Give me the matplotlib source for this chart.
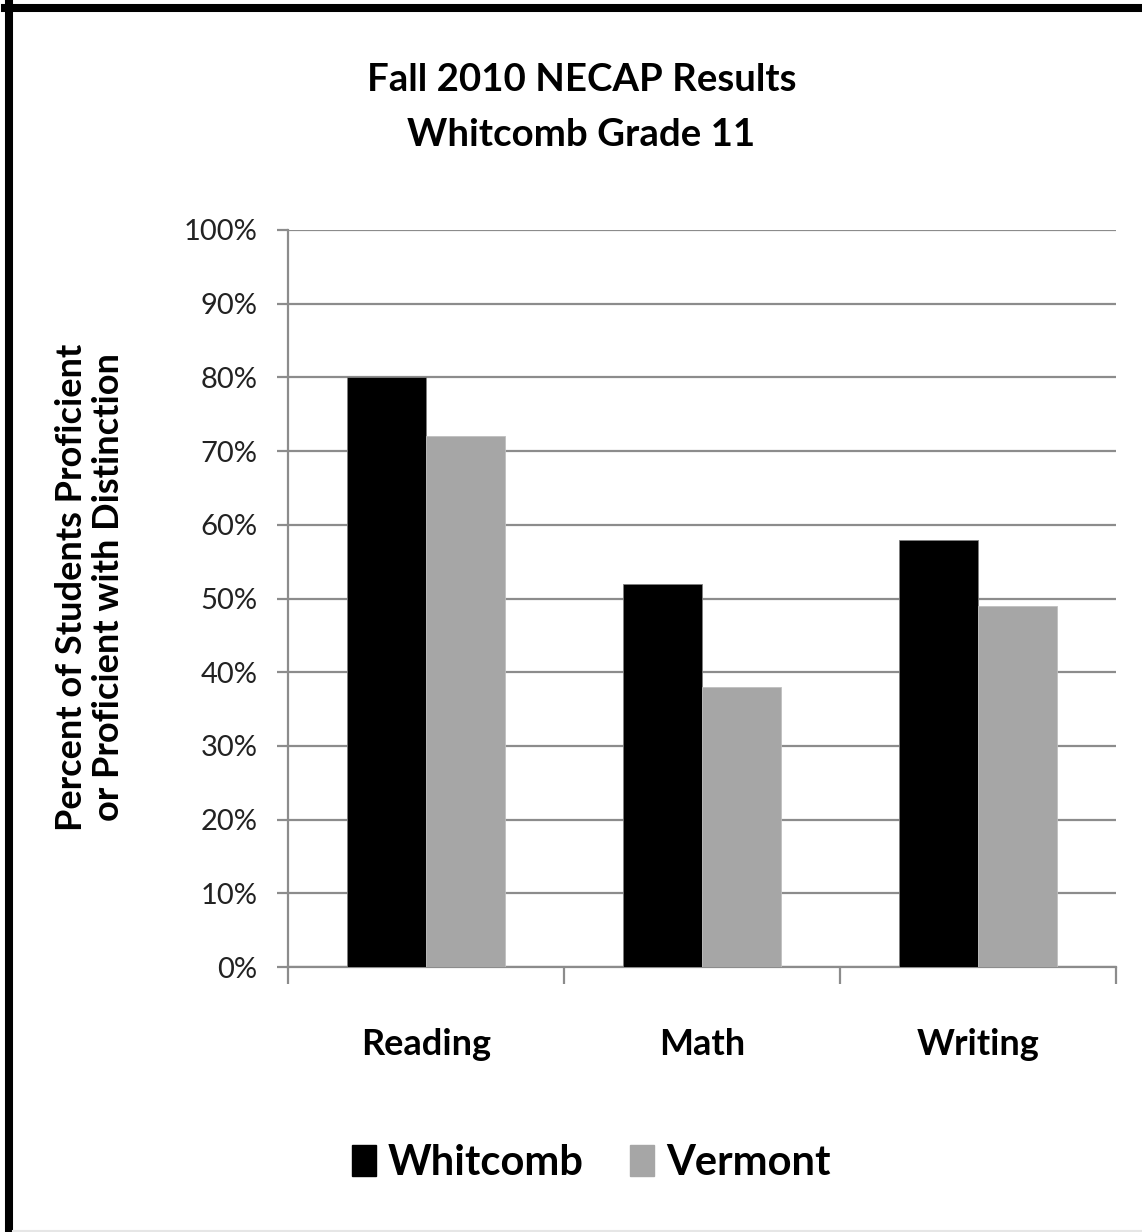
import matplotlib
matplotlib.use('Agg')
import matplotlib.pyplot as plt
from matplotlib.lines import Line2D
import numpy as np

plt.rcParams['font.family'] = ['Lato', 'DejaVu Sans']

categories = ['Reading', 'Math', 'Writing']
whitcomb = [80, 52, 58]
vermont = [72, 38, 49]
series_names = ['Whitcomb', 'Vermont']
yticks = [0, 10, 20, 30, 40, 50, 60, 70, 80, 90, 100]

W, H = 1142, 1232
fig = plt.figure(figsize=(W / 100, H / 100), dpi=100)
ax = fig.add_axes([288 / W, 1 - 967 / H, (1116 - 288) / W, (967 - 230) / H])

x = np.arange(len(categories))
bw = 0.2857
ax.bar(x - bw / 2, whitcomb, bw, color='black', edgecolor='#7f7f7f', linewidth=0.6, label=series_names[0], zorder=3)
ax.bar(x + bw / 2, vermont, bw, color='#a6a6a6', edgecolor='#bfbfbf', linewidth=0.6, label=series_names[1], zorder=3)

ax.set_xlim(-0.5, 2.5)
ax.set_ylim(0, 100)
ax.set_yticks(yticks)
ax.set_yticklabels([f'{v}%' for v in yticks], fontsize=21, color='#222222')
ax.yaxis.grid(True, color='#8c8c8c', linewidth=1.6, zorder=0)
ax.set_axisbelow(True)

ax.set_xticks(x)
ax.set_xticklabels(categories, fontsize=26, fontweight='bold')
ax.tick_params(axis='x', length=0, pad=44)
ax.set_xticks([-0.5, 0.5, 1.5, 2.5], minor=True)
ax.tick_params(axis='x', which='minor', length=12, width=1.6, color='#8c8c8c')
ax.tick_params(axis='y', length=8, width=1.6, color='#8c8c8c', pad=14)

for s in ['top', 'right']:
    ax.spines[s].set_visible(False)
for s in ['left', 'bottom']:
    ax.spines[s].set_color('#8c8c8c')
    ax.spines[s].set_linewidth(1.6)

ax.set_ylabel('Percent of Students Proficient\nor Proficient with Distinction',
              fontsize=26, fontweight='bold', linespacing=1.15)
ax.yaxis.set_label_coords(-0.1963, 0.515)

fig.text(581.5 / W, 1 - 107.5 / H, 'Fall 2010 NECAP Results\nWhitcomb Grade 11',
         ha='center', va='center', fontsize=27.6, fontweight='bold', linespacing=1.72)

handles = [plt.Rectangle((0, 0), 1, 1, color='black'), plt.Rectangle((0, 0), 1, 1, color='#a6a6a6')]
fig.legend(handles, series_names, loc='center', bbox_to_anchor=(591 / W, 1 - 1163 / H),
           ncol=2, frameon=False, prop={'size': 30, 'weight': 'bold'},
           handlelength=0.58, handleheight=0.74, handletextpad=0.29, columnspacing=1.1)

# frame lines around the slide image
fig.add_artist(Line2D([9 / W, 9 / W], [0, 1 - 4 / H], color='black', linewidth=5.8, transform=fig.transFigure))
fig.add_artist(Line2D([5 / W, 1], [1 - 8 / H, 1 - 8 / H], color='black', linewidth=5.8, transform=fig.transFigure))
fig.add_artist(Line2D([13 / W, 1], [1 - 1231 / H, 1 - 1231 / H], color='#e6e6e6', linewidth=1.5, transform=fig.transFigure))

fig.savefig('out.png', dpi=100, facecolor='white')
